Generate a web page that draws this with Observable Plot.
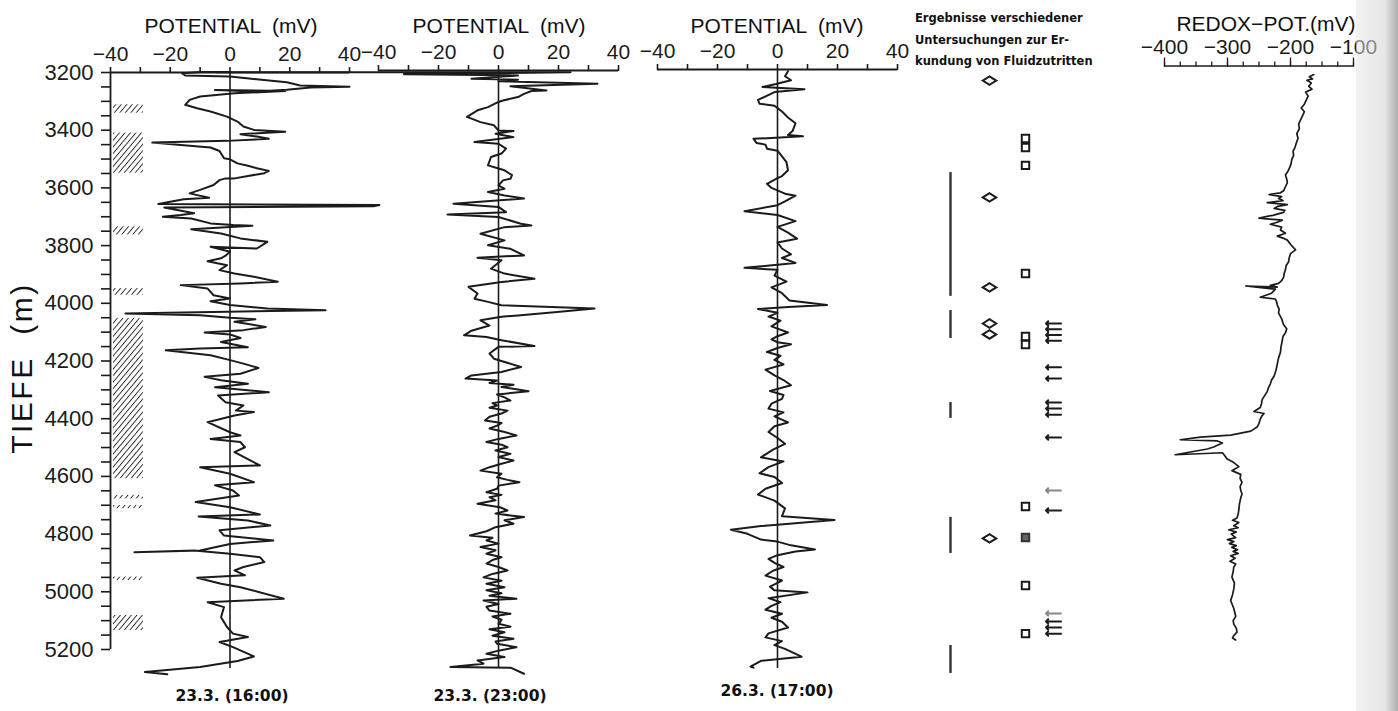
<!DOCTYPE html>
<html><head><meta charset="utf-8">
<script src="https://cdn.jsdelivr.net/npm/d3@7"></script>
<script src="https://cdn.jsdelivr.net/npm/@observablehq/plot@0.6"></script>
<style>
body{margin:0;background:#fff;}
#wrap{position:relative;width:1398px;height:711px;overflow:hidden;background:#fff;font-family:"Liberation Sans",Arial,sans-serif;color:#111;}
#wrap svg{position:absolute;left:0;top:0;}
.t{position:absolute;white-space:pre;line-height:1;transform:translate(-50%,-50%);}
.b{font-family:"DejaVu Sans",sans-serif;font-weight:bold;font-size:15.5px;}
.band{position:absolute;pointer-events:none;}
</style></head><body><div id="wrap"></div>
<script>
// ---------- DATA ----------
// [depth (m), potential (mV)] — 23.3. (16:00)
const run1 = [[3198,0],[3198,-10],[3203,-16],[3210,-15],[3214,0],[3234,19],[3245,23.5],[3249,40],[3252,27],[3260,19],[3266,9],[3261,-5],[3264,18.5],[3272,1.5],[3283,-10],[3295,-13.5],[3312,-15],[3324,-11],[3335,-6.5],[3353,-1],[3370,2.5],[3387,4.5],[3399,8],[3405,18.5],[3414,3.5],[3422,9],[3430,13],[3437,-1],[3443,-26],[3451,-16.5],[3460,-6.5],[3472,-3.5],[3497,-2],[3501,0],[3515,2.5],[3523,6],[3532,9],[3541,13],[3549,11.5],[3567,1.5],[3567,-1.5],[3573,-3.5],[3590,-5.5],[3607,-10],[3619,-13.5],[3625,-11],[3634,-7],[3639,-15.5],[3648,-20],[3656,-24],[3659,50],[3664,48],[3668,-22],[3688,-12],[3694,-16.5],[3700,-22.5],[3706,-13],[3723,-6.5],[3729,1],[3731,7.5],[3743,-13],[3758,-3],[3775,3.5],[3787,12.5],[3810,9],[3804,-6.5],[3821,0],[3835,-1.5],[3844,-3],[3854,-7.5],[3868,-1],[3885,-3.5],[3897,1.5],[3908,8],[3925,16],[3931,3.5],[3937,-16.5],[3949,-7.5],[3972,-5.5],[3983,0],[3993,-6.5],[4006,0],[4018,12.5],[4024,32],[4035,-35],[4041,-10],[4050,0],[4055,8.5],[4064,1.5],[4082,12],[4093,4.5],[4101,-8.5],[4108,0],[4120,3.5],[4134,-3],[4152,6],[4157,-10],[4163,-21.5],[4180,-6.5],[4197,0],[4209,4.5],[4224,9.5],[4244,3.5],[4255,-8.5],[4267,-3],[4279,6],[4291,-5],[4308,13],[4320,-4],[4343,-1.5],[4354,4.5],[4372,2],[4377,8],[4389,1.5],[4412,-7.5],[4447,0],[4458,3.5],[4470,-6.5],[4481,3.5],[4499,5],[4516,1.5],[4562,10],[4568,-10],[4591,0],[4620,8],[4631,-5],[4649,1],[4666,3],[4689,-11.5],[4707,0],[4732,10],[4739,-10.5],[4753,6],[4770,13.5],[4787,-3.5],[4805,-2],[4822,14.5],[4834,0],[4857,-10],[4863,-32],[4857,-12],[4868,0],[4880,10],[4897,11.5],[4914,4.5],[4926,1.5],[4943,5],[4951,-11],[4972,-3],[4984,3.5],[5024,18],[5036,-7.5],[5053,-2],[5088,-3],[5122,-1],[5145,1],[5157,6],[5174,-3.5],[5192,1],[5224,8],[5240,2.5],[5261,-10],[5278,-28.5],[5286,-21]];

// 23.3. (23:00)
const run2 = [[3199,-94],[3199.5,24],[3206,-31.5],[3210,6.5],[3222,-9],[3225,6.5],[3230,0],[3239,33],[3248,4],[3262,16],[3264,11],[3274,8.5],[3285,6.5],[3297,1.5],[3302,0],[3320,-3.5],[3331,-7],[3354,-10.5],[3372,-6],[3383,-1.5],[3401,0],[3403,5],[3412,-1],[3424,5],[3441,-8],[3447,0],[3464,2.5],[3481,1],[3493,-2.5],[3522,-3.5],[3533,0],[3539,2],[3556,4.5],[3568,4],[3574,1.5],[3591,0],[3603,2],[3614,-3.5],[3626,2],[3637,8.5],[3655,-15],[3666,0],[3684,2.5],[3692,-17],[3701,0],[3724,7.5],[3730,11],[3736,2],[3759,-6],[3782,2],[3799,-3.5],[3811,4],[3834,8.5],[3842,-7],[3851,1],[3880,-2.5],[3897,2],[3915,12],[3926,1],[3943,-10],[3966,-7],[3984,-8],[3995,-3.5],[4007,1],[4018,32],[4030,19.5],[4042,6.5],[4047,1],[4059,-6],[4077,-3],[4095,-9],[4111,-11.5],[4117,-4],[4128,1],[4148,12],[4151,0],[4174,-3],[4192,-1.5],[4221,7.5],[4238,1],[4250,-9],[4261,-11],[4268,-0.5],[4276,-3],[4282,5],[4290,1],[4298,6],[4305,10],[4316,-0.5],[4326,2],[4337,4],[4346,-2],[4354,-0.5],[4362,-3],[4372,3],[4382,1],[4393,-3],[4406,-4.5],[4415,1],[4424,-0.5],[4434,-3],[4446,2],[4458,6],[4470,0],[4481,-4],[4490,1],[4499,3],[4510,-1],[4522,4],[4533,0],[4545,5],[4556,1],[4568,-3],[4580,-6],[4591,1],[4603,-0.5],[4612,3],[4620,7],[4632,0],[4643,-0.5],[4655,-4],[4664,1],[4672,-3],[4683,-1],[4695,-7],[4707,0.5],[4718,3],[4729,-1],[4741,8.5],[4752,2],[4764,5],[4776,-1],[4790,-4],[4805,-9.5],[4813,-2],[4822,-4],[4833,0],[4845,-6],[4856,-1],[4868,-4],[4880,1],[4890,-2],[4902,-4],[4914,0],[4926,3],[4938,-2],[4950,-5],[4962,1],[4972,-4],[4984,2],[4995,-4],[5005,1],[5014,-3],[5024,6],[5030,-5],[5042,0],[5052,-4],[5065,-3],[5076,4],[5086,-2],[5097,1],[5111,0],[5121,4],[5130,-3],[5140,2],[5152,-2],[5163,5],[5172,-1],[5180,-0.5],[5192,6],[5204,0],[5215,-4],[5226,2],[5238,-7],[5249,-5],[5261,-16],[5263,4],[5284,8.5]];

// 26.3. (17:00)
const run3 = [[3196,3.5],[3213,2.5],[3227,4.5],[3240,-0.5],[3250,-5],[3258,9],[3268,-1],[3295,-6.5],[3308,-6],[3315,-1],[3335,1.5],[3356,3.5],[3376,6],[3403,5],[3417,3.5],[3421,8.5],[3430,-8],[3444,-7],[3450,-4],[3464,-3.5],[3471,0],[3491,1.5],[3511,3],[3539,3.5],[3559,1.5],[3566,0],[3586,-3.5],[3600,-2],[3620,2.5],[3627,6],[3647,2.5],[3660,0],[3681,-11],[3694,0],[3715,6],[3735,0],[3755,3.5],[3776,6.5],[3789,0],[3810,1.5],[3830,4.5],[3843,1.5],[3860,6],[3877,-11],[3884,0],[3904,-1],[3925,3],[3945,-2],[3965,1.5],[3990,4],[4006,16.5],[4013,3.5],[4020,-6.5],[4033,0],[4046,-3],[4060,1],[4080,-2],[4101,3.5],[4114,0],[4125,-2],[4135,0],[4142,4.5],[4155,0],[4169,-3.5],[4182,1],[4196,-1],[4212,2],[4230,-4],[4250,-1],[4266,2],[4284,4.5],[4304,-2.5],[4318,2],[4331,1.5],[4348,-2],[4365,-3],[4378,2],[4392,-1],[4413,3.5],[4426,-1],[4446,-3],[4467,0],[4487,2.5],[4507,-1.5],[4534,-5.5],[4548,2],[4568,-3],[4589,-6],[4602,-1],[4623,1.5],[4643,-4],[4663,-6.5],[4684,-1],[4711,2.5],[4738,1.5],[4751,19],[4772,-5.5],[4785,-15.5],[4799,-10],[4819,-5.5],[4826,0],[4839,4.5],[4853,12.5],[4860,6],[4873,0],[4886,-3],[4900,-1],[4914,2],[4927,-1.5],[4944,-4],[4961,1.5],[4982,-2.5],[4995,-1],[5002,10],[5022,-3],[5036,1],[5049,-2],[5062,-4],[5076,1.5],[5090,-2],[5104,1.5],[5124,3.5],[5144,-3],[5158,-4],[5171,1.5],[5185,-1],[5198,2.5],[5225,8],[5239,-5.5],[5259,-9],[5263,-8]];

// [depth (m), redox potential (mV)]
const redox = [[3207,-163],[3215,-170],[3222,-165],[3227,-174],[3236,-167],[3248,-171],[3258,-166],[3268,-176],[3282,-172],[3296,-175],[3310,-178],[3323,-183],[3336,-178],[3350,-181],[3364,-184],[3378,-187],[3395,-186],[3412,-190],[3428,-188],[3446,-191],[3460,-193],[3473,-196],[3487,-195],[3501,-198],[3515,-199],[3528,-201],[3542,-204],[3555,-208],[3569,-206],[3582,-205],[3596,-208],[3610,-211],[3617,-216],[3623,-234],[3630,-214],[3637,-219],[3644,-212],[3651,-237],[3658,-205],[3664,-220],[3671,-226],[3678,-209],[3685,-211],[3695,-228],[3705,-250],[3712,-213],[3719,-221],[3726,-232],[3736,-214],[3746,-216],[3757,-208],[3767,-221],[3774,-212],[3781,-205],[3798,-199],[3815,-192],[3828,-200],[3842,-202],[3856,-203],[3870,-207],[3883,-208],[3897,-210],[3910,-211],[3921,-214],[3931,-219],[3938,-232],[3944,-221],[3940,-271],[3951,-224],[3965,-230],[3979,-248],[3985,-224],[3995,-222],[4006,-221],[4020,-218],[4033,-219],[4054,-214],[4074,-211],[4088,-206],[4102,-208],[4115,-212],[4129,-213],[4150,-215],[4170,-216],[4190,-219],[4211,-221],[4232,-223],[4252,-226],[4266,-230],[4279,-232],[4293,-235],[4306,-237],[4320,-241],[4334,-245],[4347,-246],[4361,-248],[4375,-258],[4382,-242],[4392,-246],[4402,-248],[4416,-250],[4429,-253],[4443,-263],[4457,-295],[4464,-343],[4473,-375],[4477,-316],[4484,-308],[4498,-322],[4505,-332],[4525,-383],[4518,-308],[4529,-304],[4539,-301],[4552,-290],[4566,-282],[4573,-287],[4580,-293],[4593,-279],[4607,-280],[4621,-277],[4635,-280],[4648,-279],[4661,-277],[4675,-279],[4695,-281],[4716,-282],[4730,-283],[4744,-285],[4752,-292],[4760,-282],[4771,-290],[4778,-283],[4785,-298],[4793,-286],[4800,-294],[4812,-287],[4819,-300],[4826,-290],[4833,-297],[4840,-286],[4846,-293],[4854,-284],[4860,-291],[4867,-283],[4875,-295],[4884,-288],[4894,-296],[4904,-287],[4914,-290],[4930,-291],[4949,-293],[4970,-289],[4990,-290],[5010,-292],[5030,-295],[5058,-290],[5085,-287],[5100,-291],[5112,-290],[5126,-286],[5140,-285],[5152,-290],[5160,-292],[5167,-287]];

// lithology (hatched) intervals [top, bottom] in m
const lithology = [[3312,3341],[3410,3549],[3735,3763],[3949,3972],[4053,4608],[4666,4678],[4701,4712],[4949,4961],[5082,5134]];

// indicator columns of the "Ergebnisse verschiedener Untersuchungen" panel
const indicatorCols = ["Strecke","Raute","Quadrat","Pfeil"];
const barIntervals = [[3547,3976],[4025,4122],[4344,4399],[4742,4867],[5186,5283]];
const diamonds = [3228,3633,3945,4070,4108,4815];
const squaresOpen = [3429,3460,3522,3897,4115,4143,4704,4978,5145];
const squaresFilled = [4812];
const arrows = [4070,4090,4110,4130,4222,4261,4344,4365,4386,4465,4718,5103,5124,5145];
const arrowsFaint = [4649,5075];

const mvTicks = [-40,-30,-20,-10,0,10,20,30,40];
const redoxTicks = [-400,-300,-200,-100];
const depthTicks = d3.range(3200, 5201, 50);
const runLabels = ["23.3. (16:00)","23.3. (23:00)","26.3. (17:00)"];

// ---------- LAYOUT ----------
const W = 1398, H = 711;
const Y0 = 72, Y1 = 649;               // pixel rows of 3200 m and 5200 m
const k = (Y1 - Y0) / 2000;             // px per metre
const FONT = "'Liberation Sans', Arial, sans-serif";
const INK = "#1b1b1b";
const wrap = document.getElementById("wrap");
const col = name => indicatorCols.indexOf(name);

const sgn = d => d === 0 ? "0" : (d < 0 ? "\u2212" + Math.abs(d) : String(d));

function panel({left, right, axisPx, xDomain, xScale = {}, yAxis = false, marks}) {
  const yStart = 3200 - (Y0 - axisPx) / k;
  const svg = Plot.plot({
    width: W, height: H,
    marginLeft: left, marginRight: W - right, marginTop: axisPx, marginBottom: H - Y1,
    x: {domain: xDomain, ...xScale},
    y: {domain: [yStart, 5200], reverse: true, ...(yAxis ? {} : {axis: null})},
    style: {background: "transparent", overflow: "visible", fontFamily: FONT, color: INK},
    marks: marks(yStart)
  });
  wrap.appendChild(svg);
  return svg;
}

function potentialPanel(data, left, right, axisPx, first) {
  return panel({
    left, right, axisPx, xDomain: [-40, 40], yAxis: first,
    marks: (yStart) => [
      ...(first ? [
        Plot.rect(lithology, {x1: -39, x2: -29, y1: d => d[0], y2: d => d[1], fill: "url(#hatch)"}),
        Plot.ruleX([-40], {y1: 3200, y2: 5200, stroke: INK, strokeWidth: 1.8}),
        Plot.axisY({anchor: "left", ticks: depthTicks, tickSize: 9, tickPadding: 8,
          tickFormat: d => d % 200 === 0 ? String(d) : "", fontSize: 22, label: null, stroke: INK, strokeWidth: 1.6})
      ] : []),
      Plot.ruleY([yStart], {x1: -40, x2: 40, stroke: INK, strokeWidth: 1.8}),
      Plot.ruleX([0], {y1: yStart, y2: 5266, stroke: INK, strokeWidth: 1.6}),
      Plot.axisX({anchor: "top", ticks: mvTicks, tickSize: 6, tickPadding: 6,
        tickFormat: d => d % 20 === 0 ? sgn(d) : "", fontSize: 21, label: null, stroke: INK, strokeWidth: 1.6}),
      Plot.line(data, {x: d => d[1], y: d => d[0], stroke: INK, strokeWidth: 2, strokeLinejoin: "round"})
    ]
  });
}

const s1 = potentialPanel(run1, 110, 349, 72, true);
potentialPanel(run2, 378, 618, 70, false);
potentialPanel(run3, 657, 897, 69, false);

// hatch pattern for lithology column
d3.select(s1).insert("defs", ":first-child")
  .append("pattern").attr("id", "hatch").attr("patternUnits", "userSpaceOnUse")
  .attr("width", 4.2).attr("height", 4.2).attr("patternTransform", "rotate(40)")
  .append("line").attr("x1", 0).attr("y1", 0).attr("x2", 0).attr("y2", 4.2)
  .attr("stroke", "#222").attr("stroke-width", 1.8);

// indicator panel (columns placed by a piecewise position scale)
const diamondSym = {draw(ctx, size) { const r = Math.sqrt(size / Math.PI);
  ctx.moveTo(-1.35 * r, 0); ctx.lineTo(0, -0.85 * r); ctx.lineTo(1.35 * r, 0); ctx.lineTo(0, 0.85 * r); ctx.closePath(); }};
panel({
  left: 950, right: 1053, axisPx: 72, xDomain: [0, 1, 2, 3],
  xScale: {type: "linear", range: [950, 989, 1025, 1053], axis: null},
  marks: () => [
    Plot.ruleX(barIntervals, {x: () => col("Strecke"), y1: d => d[0], y2: d => d[1], stroke: "#333", strokeWidth: 2.4}),
    Plot.dot(diamonds, {x: () => col("Raute"), y: d => d, symbol: diamondSym, r: 5, stroke: INK, strokeWidth: 2, fill: "white"}),
    Plot.dot(squaresOpen, {x: () => col("Quadrat"), y: d => d, symbol: "square", r: 4.2, stroke: INK, strokeWidth: 2, fill: "white"}),
    Plot.dot(squaresFilled, {x: () => col("Quadrat"), y: d => d, symbol: "square", r: 4.2, stroke: "#333", strokeWidth: 2, fill: "#666"}),
    Plot.vector(arrows, {x: () => col("Pfeil"), y: d => d, rotate: -90, length: 15, r: 2.6, anchor: "middle", stroke: INK, strokeWidth: 2}),
    Plot.vector(arrowsFaint, {x: () => col("Pfeil"), y: d => d, rotate: -90, length: 15, r: 2.6, anchor: "middle", stroke: "#888", strokeWidth: 2})
  ]
});

// redox panel
panel({
  left: 1164, right: 1353, axisPx: 65.5, xDomain: [-400, -100],
  marks: (yStart) => [
    Plot.ruleY([yStart], {x1: -400, x2: -100, stroke: INK, strokeWidth: 1.5}),
    Plot.axisX({anchor: "top", ticks: d3.range(-400, -99, 25), tickSize: 5, tickFormat: () => "", label: null, stroke: INK, strokeWidth: 1.3}),
    Plot.axisX({anchor: "top", ticks: redoxTicks, tickSize: 9, tickPadding: 3, tickFormat: sgn, fontSize: 21, label: null, stroke: INK, strokeWidth: 1.3}),
    Plot.line(redox, {x: d => d[1], y: d => d[0], stroke: INK, strokeWidth: 1.7, strokeLinejoin: "round"})
  ]
});

// ---------- TEXT ----------
function txt(s, x, y, css) {
  const d = document.createElement("div");
  d.className = "t"; d.textContent = s;
  d.style.left = x + "px"; d.style.top = y + "px";
  Object.assign(d.style, css || {});
  wrap.appendChild(d); return d;
}
[231, 499, 777].forEach(x => txt("POTENTIAL  (mV)", x, 25, {fontSize: "21px"}));
txt("REDOX\u2212POT.(mV)", 1266, 23, {fontSize: "21px"});
txt("TIEFE  (m)", 22, 368, {fontSize: "30px", letterSpacing: "2.5px", transform: "translate(-50%,-50%) rotate(-90deg)"});
const bx = [232, 490, 777], by = [697, 697, 692];
runLabels.forEach((s, i) => { const d = txt(s, bx[i], by[i]); d.classList.add("b"); });
const note = document.createElement("div");
note.className = "band";
note.style.cssText = "left:915px;top:8px;font:bold 11.5px 'DejaVu Sans',sans-serif;line-height:21.5px;white-space:pre;color:#111;";
note.textContent = "Ergebnisse verschiedener\nUntersuchungen zur Er-\nkundung von Fluidzutritten";
wrap.appendChild(note);

// scanned page edge on the right
const edge = document.createElement("div");
edge.className = "band";
edge.style.cssText = "left:1356px;top:0;width:42px;height:711px;background:linear-gradient(to right, rgba(228,228,228,0.5) 0%, rgba(215,215,215,0.6) 68%, rgba(160,160,160,0.85) 100%);";
wrap.appendChild(edge);
</script></body></html>
